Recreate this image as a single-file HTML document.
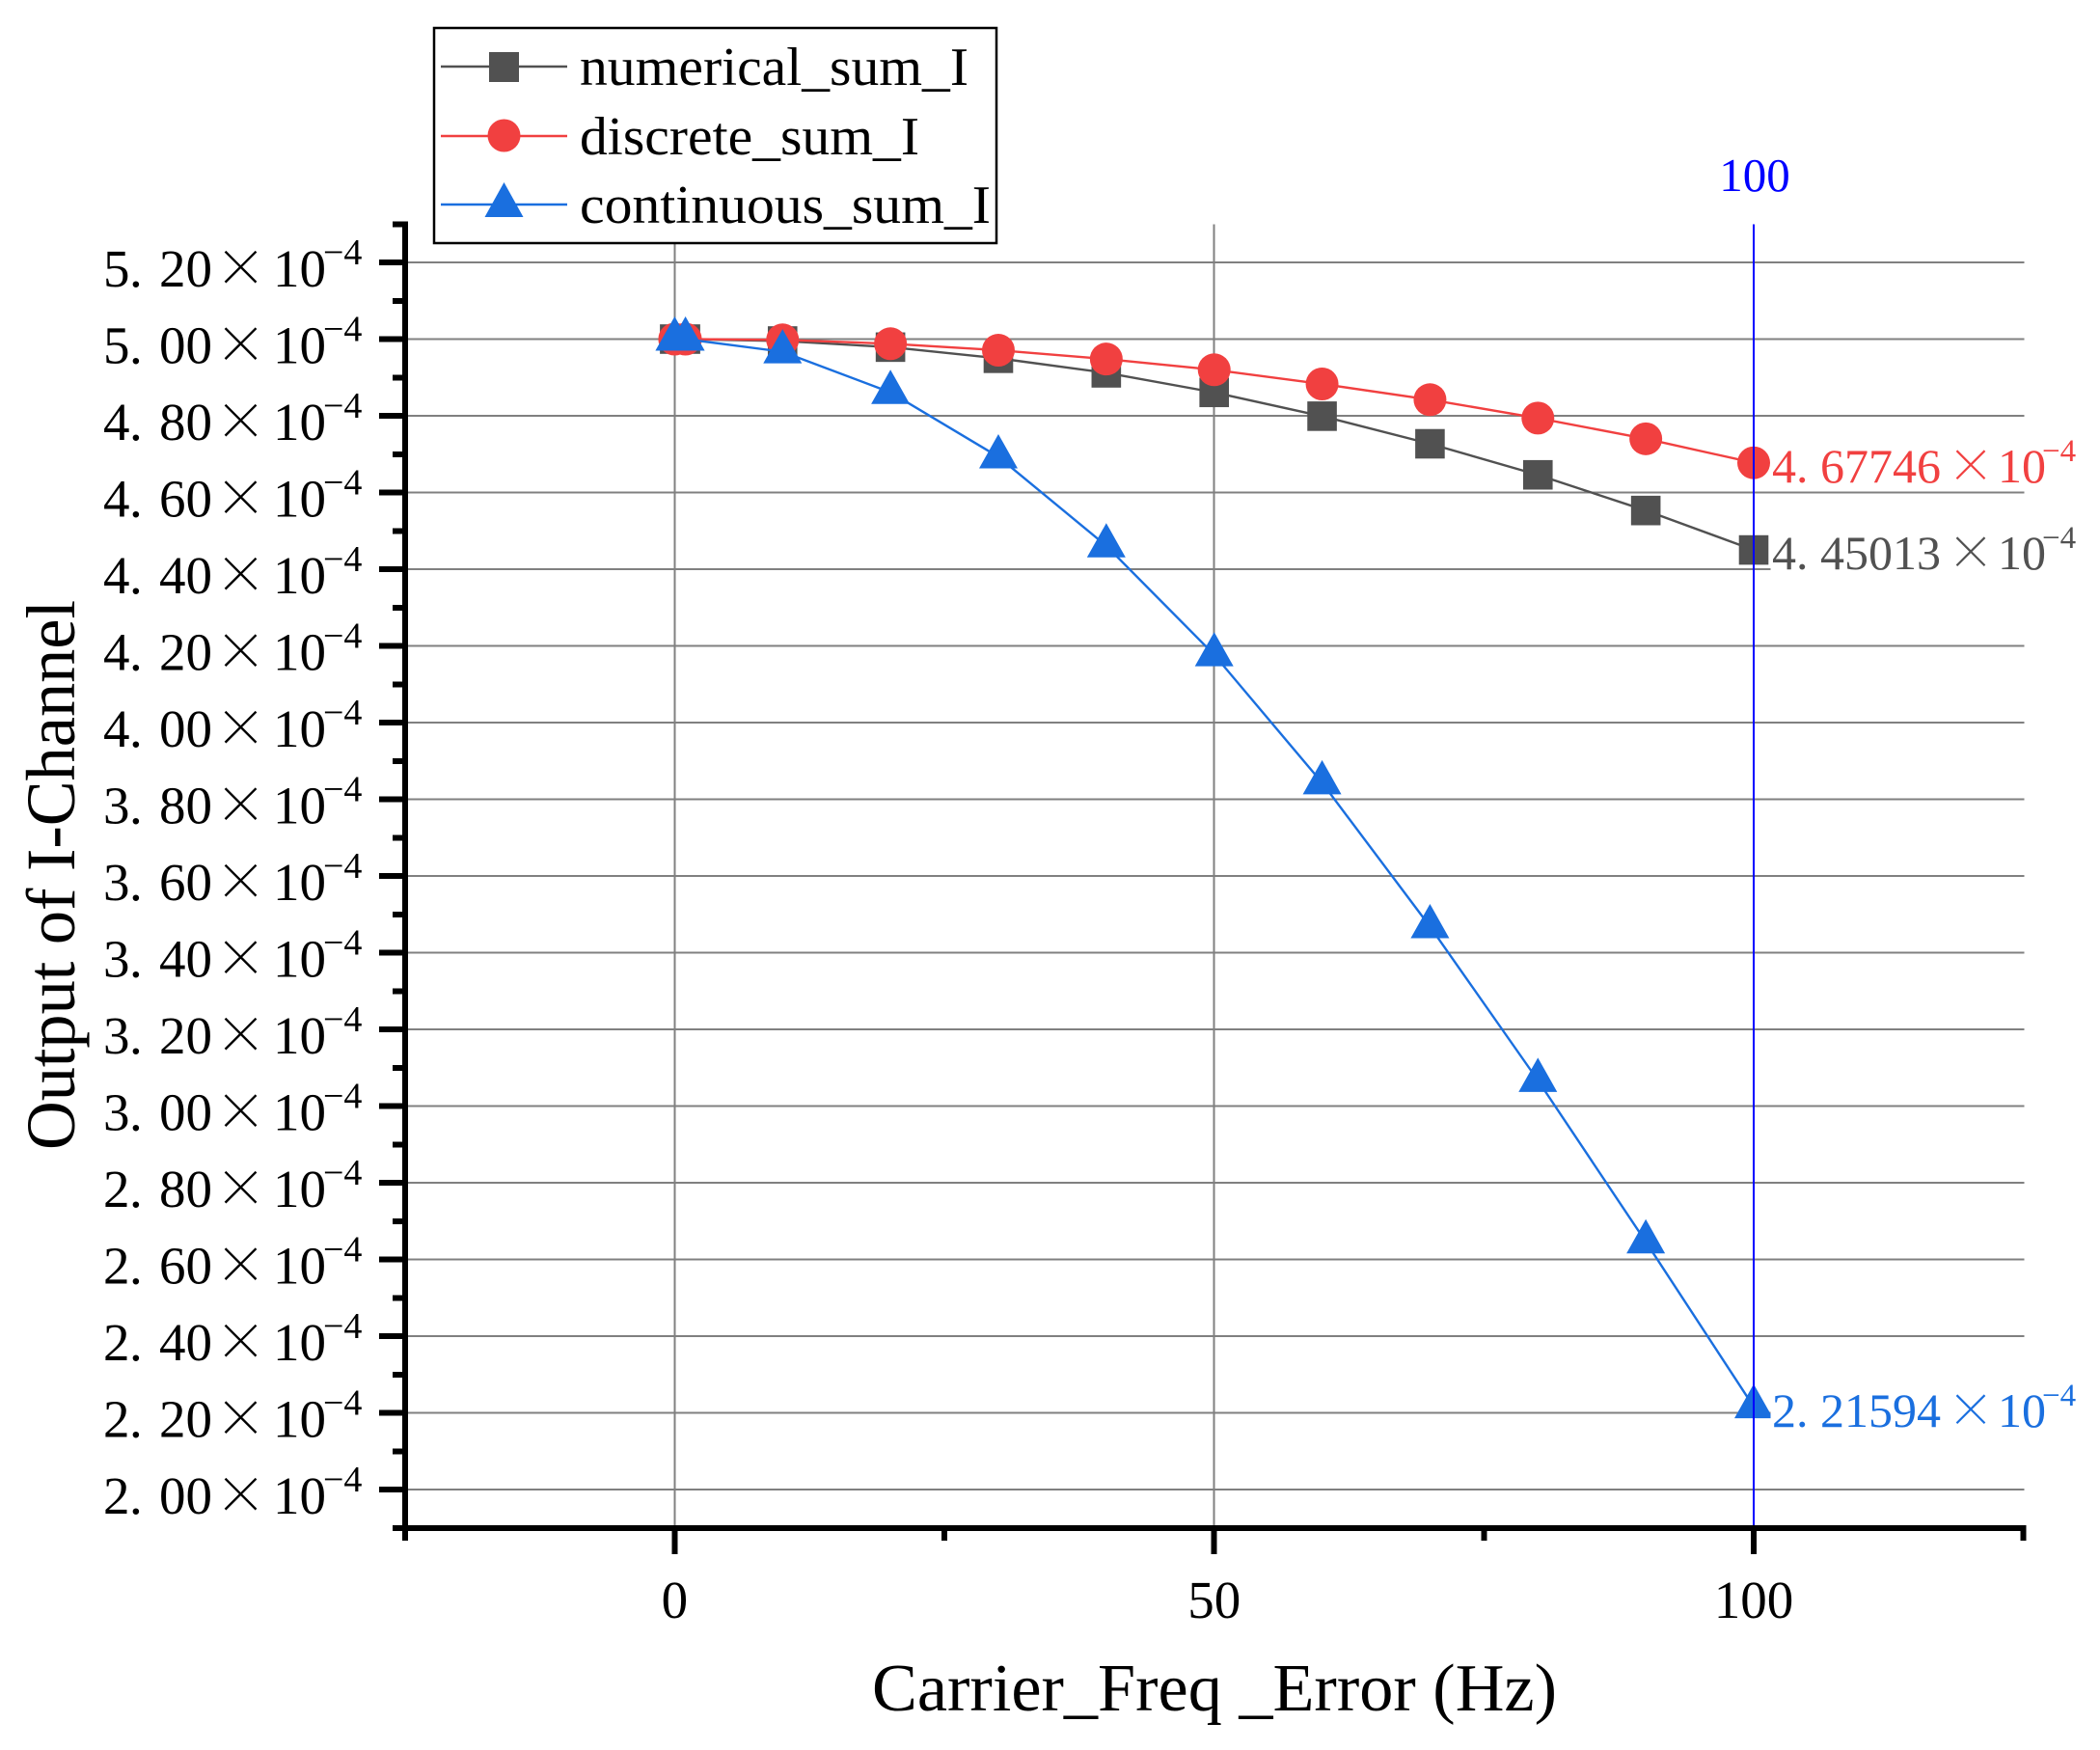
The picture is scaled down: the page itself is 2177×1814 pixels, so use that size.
<!DOCTYPE html>
<html lang="en">
<head>
<meta charset="utf-8">
<title>Output of I-Channel vs Carrier Frequency Error</title>
<style>
html,body{margin:0;padding:0;background:#fff;}
#chart{display:block;width:2177px;height:1814px;}
text{font-family:"Liberation Serif","Noto Serif CJK SC",serif;}
.x-sign{font-family:"Noto Serif CJK SC","Liberation Serif",serif;}
#grid line,#axes line{shape-rendering:crispEdges;}
</style>
</head>
<body>
<svg id="chart" xmlns="http://www.w3.org/2000/svg" width="2177" height="1814" viewBox="0 0 2177 1814">
  <g id="grid"></g>
  <g id="series"></g>
  <g id="labels"></g>
  <g id="axes"></g>
  <text x="904" y="1773" font-size="70" textLength="710" lengthAdjust="spacingAndGlyphs" xml:space="preserve">Carrier_Freq _Error (Hz)</text>
  <text transform="translate(77 1192) rotate(-90)" font-size="72" textLength="570" lengthAdjust="spacingAndGlyphs">Output of I-Channel</text>
  <g>
    <rect x="450" y="29" width="583" height="223" fill="#fff" stroke="#000" stroke-width="2.5"/>
    <g>
      <line x1="457" x2="588" y1="69" y2="69" stroke="#515151" stroke-width="2.5"/>
      <rect x="507" y="54" width="31" height="31" fill="#515151"/>
      <text x="601" y="88" font-size="56" textLength="403" lengthAdjust="spacingAndGlyphs">numerical_sum_I</text>
    </g>
    <g>
      <line x1="457" x2="588" y1="141" y2="141" stroke="#F14040" stroke-width="2.5"/>
      <circle cx="522.5" cy="140.5" r="17" fill="#F14040"/>
      <text x="601" y="160" font-size="56" textLength="352" lengthAdjust="spacingAndGlyphs">discrete_sum_I</text>
    </g>
    <g>
      <line x1="457" x2="588" y1="212" y2="212" stroke="#1A6FDF" stroke-width="2.5"/>
      <polygon points="522.5,189 542.5,225 502.5,225" fill="#1A6FDF"/>
      <text x="601" y="231" font-size="56" textLength="426" lengthAdjust="spacingAndGlyphs">continuous_sum_I</text>
    </g>
  </g>
</svg>
<script>
// Chart data, values in units of 1e-4
const carrierFreqError = [0, 1, 10, 20, 30, 40, 50, 60, 70, 80, 90, 100];
const numericalSumI = [5.000, 5.000, 4.995, 4.979, 4.950, 4.912, 4.861, 4.799, 4.727, 4.646, 4.553, 4.45013];
const discreteSumI = [5.000, 5.000, 4.998, 4.988, 4.971, 4.948, 4.920, 4.883, 4.842, 4.794, 4.740, 4.67746];
const continuousSumI = [5.000, 5.000, 4.967, 4.861, 4.693, 4.461, 4.177, 3.843, 3.468, 3.067, 2.646, 2.21594];
const yMajorTicks = [5.2, 5.0, 4.8, 4.6, 4.4, 4.2, 4.0, 3.8, 3.6, 3.4, 3.2, 3.0, 2.8, 2.6, 2.4, 2.2, 2.0];
const yMinorTicks = [5.3, 5.1, 4.9, 4.7, 4.5, 4.3, 4.1, 3.9, 3.7, 3.5, 3.3, 3.1, 2.9, 2.7, 2.5, 2.3, 2.1, 1.9];
const xMajorTicks = [0, 50, 100];
const xMinorTicks = [-25, 25, 75, 125];
const cursorValue = 100;
const endLabelNumerical = "4.45013";
const endLabelDiscrete = "4.67746";
const endLabelContinuous = "2.21594";

const NS = "http://www.w3.org/2000/svg";
const sx = v => 699.4 + (v - 0) * 11.186;
const sy = v => 272 + (5.2 - v) * 397.5;

const gridG = document.getElementById("grid");
const seriesG = document.getElementById("series");
const labelsG = document.getElementById("labels");
const axesG = document.getElementById("axes");

function make(tag, attrs, parent, txt) {
  const el = document.createElementNS(NS, tag);
  for (const k in attrs) el.setAttribute(k, attrs[k]);
  if (txt !== undefined) el.textContent = txt;
  parent.appendChild(el);
  return el;
}

// horizontal grid lines
yMajorTicks.forEach(v => {
  const el = make("line", {x1: sx(-25), x2: sx(125) + 1, y1: sy(v), y2: sy(v), stroke: "#808080", "stroke-width": 2}, gridG);
  
  
});
// vertical grid lines
xMajorTicks.forEach(v => {
  const el = make("line", {x1: sx(v), x2: sx(v), y1: sy(5.3), y2: sy(1.9), stroke: "#808080", "stroke-width": 2}, gridG);
  
  
});

function linePoints(values) {
  return values.map((v, i) => sx(carrierFreqError[i]) + "," + sy(v)).join(" ");
}

// numerical series
const numLine = make("polyline", {points: linePoints(numericalSumI), fill: "none", stroke: "#515151", "stroke-width": 2.4}, seriesG);


numericalSumI.forEach((v, i) => {
  const el = make("rect", {x: sx(carrierFreqError[i]) - 15.3, y: sy(v) - 15.3, width: 30.6, height: 30.6, fill: "#515151"}, seriesG);
  
  
});

// discrete series
const disLine = make("polyline", {points: linePoints(discreteSumI), fill: "none", stroke: "#F14040", "stroke-width": 2.4}, seriesG);


discreteSumI.forEach((v, i) => {
  const el = make("circle", {cx: sx(carrierFreqError[i]), cy: sy(v), r: 17, fill: "#F14040"}, seriesG);
  
  
});

// continuous series
const conLine = make("polyline", {points: linePoints(continuousSumI), fill: "none", stroke: "#1A6FDF", "stroke-width": 2.4}, seriesG);


continuousSumI.forEach((v, i) => {
  const x = sx(carrierFreqError[i]);
  const y = sy(v);
  const pts = x + "," + (y - 23.5) + " " + (x + 20) + "," + (y + 12) + " " + (x - 20) + "," + (y + 12);
  const el = make("polygon", {points: pts, fill: "#1A6FDF"}, seriesG);
  
  
});

// number in "d.dd × 10^-4" form, laid out glyph group by glyph group
function sciText(parent, str, opts) {
  const t = make("text", {y: opts.y, "font-size": opts.fs, fill: opts.fill}, parent);
  const lead = str.slice(0, 1);
  const rest = str.slice(2);
  make("tspan", {x: opts.x0}, t, lead);
  make("tspan", {x: opts.xDot}, t, ".");
  make("tspan", {x: opts.xRest}, t, rest);
  make("tspan", {x: opts.xSign, y: opts.y + opts.signDy, "font-size": opts.signFs, class: "x-sign"}, t, "\u00D7");
  make("tspan", {x: opts.xTen, y: opts.y}, t, "10");
  make("tspan", {x: opts.xSup, y: opts.y + opts.supDy, "font-size": opts.supFs}, t, "\u22124");
  return t;
}

// end-of-series labels sit on white boxes that mask the grid beneath them
function endLabel(value, str, fill, name) {
  const y = sy(value) + (name === "numerical" ? 20 : name === "discrete" ? 20.5 : 20.8);
  const box = make("rect", {x: 1835.5, y: y - 45, width: 318, height: 50, fill: "#fff"}, labelsG);
  
  
  const t = sciText(labelsG, str, {
    x0: 1837, xDot: 1862, xRest: 1887, xSign: 2018, xTen: 2071, xSup: 2117,
    y: y, fs: 50, fill: fill, signFs: 50, signDy: 0, supFs: 33, supDy: -22
  });
  return t;
}
const labelNum = endLabel(numericalSumI[11], endLabelNumerical, "#515151", "numerical");


const labelDis = endLabel(discreteSumI[11], endLabelDiscrete, "#F14040", "discrete");


const labelCon = endLabel(continuousSumI[11], endLabelContinuous, "#1A6FDF", "continuous");



// vertical cursor
const cursorLine = make("line", {x1: sx(cursorValue), x2: sx(cursorValue), y1: sy(5.3), y2: sy(1.9), stroke: "#0000FF", "stroke-width": 2}, axesG);


const cursorLabel = make("text", {x: sx(cursorValue) + 1, y: 198, "font-size": 49, fill: "#0000FF", "text-anchor": "middle"}, axesG, String(cursorValue));



// axis lines
const yAxisLine = make("line", {x1: sx(-25), x2: sx(-25), y1: sy(5.3) - 3, y2: sy(1.9) + 3, stroke: "#000", "stroke-width": 6}, axesG);


const xAxisLine = make("line", {x1: sx(-25) - 3, x2: sx(125) + 3, y1: sy(1.9), y2: sy(1.9), stroke: "#000", "stroke-width": 6}, axesG);



// y ticks
yMajorTicks.forEach(v => {
  const tk = make("line", {x1: 393, x2: sx(-25), y1: sy(v), y2: sy(v), stroke: "#000", "stroke-width": 6}, axesG);
  
  
  const lbl = sciText(axesG, v.toFixed(2), {
    x0: 107, xDot: 134, xRest: 165, xSign: 222, xTen: 283, xSup: 335,
    y: sy(v) + 25, fs: 55, fill: "#000", signFs: 55, signDy: 0, supFs: 38, supDy: -23
  });
  
  
});
yMinorTicks.forEach(v => {
  const tk = make("line", {x1: 407, x2: sx(-25), y1: sy(v), y2: sy(v), stroke: "#000", "stroke-width": 6}, axesG);
  
  
});

// x ticks
xMajorTicks.forEach(v => {
  const tk = make("line", {x1: sx(v), x2: sx(v), y1: sy(1.9), y2: 1611, stroke: "#000", "stroke-width": 6}, axesG);
  
  
  const lbl = make("text", {x: sx(v), y: 1677, "font-size": 55, "text-anchor": "middle"}, axesG, String(v));
  
  
});
xMinorTicks.forEach(v => {
  const tk = make("line", {x1: sx(v), x2: sx(v), y1: sy(1.9), y2: 1597, stroke: "#000", "stroke-width": 6}, axesG);
  
  
});
</script>
</body>
</html>
